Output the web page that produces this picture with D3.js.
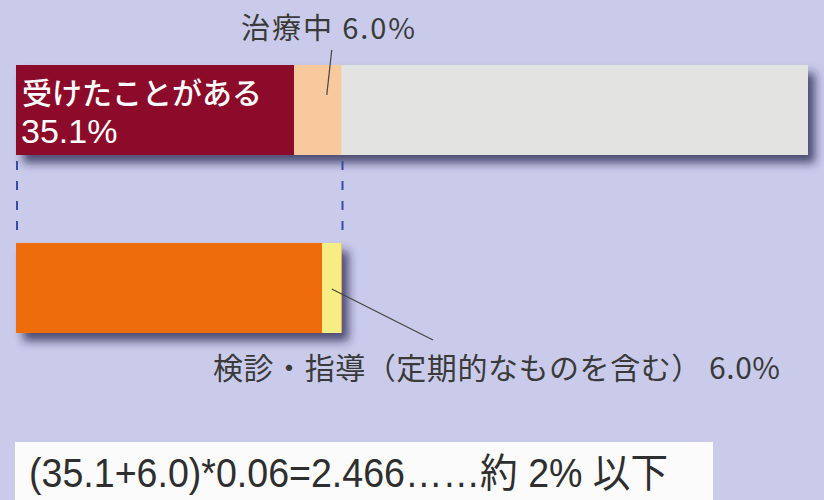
<!DOCTYPE html>
<html>
<head>
<meta charset="utf-8">
<script src="https://cdn.jsdelivr.net/npm/d3@7"></script>
<style>
  html, body { margin: 0; padding: 0; background: #cacbea; }
  svg { display: block; }
</style>
</head>
<body>
<svg id="chart" width="824" height="500"></svg>
<script>
// Share of people who have received treatment (upper bar)
const topCategories = ["受けたことがある", "治療中", "その他"];
const topValues = [35.1, 6.0, 58.9];
const topColors = ["#8c0b2b", "#f7c99c", "#e3e3e1"];

// Breakdown of the 41.1% (35.1 + 6.0): 6% of it is check-ups / guidance
const bottomCategories = ["その他", "検診・指導"];
const bottomValues = [38.634, 2.466];
const bottomColors = ["#ee6c0c", "#f8ec84"];

// Text labels
const treatedLabel = "受けたことがある";
const treatedValueLabel = "35.1%";
const inTreatmentLabel = "治療中 6.0%";
const checkupLabel = "検診・指導（定期的なものを含む） 6.0%";
const formulaLabel = "(35.1+6.0)*0.06=2.466……約 2% 以下";

const svg = d3.select("#chart");
const W = 824, H = 500;

svg.append("rect").attr("width", W).attr("height", H).attr("fill", "#cacbea");

const defs = svg.append("defs");
const shadow = defs.append("filter").attr("id", "barShadow")
  .attr("x", "-5%").attr("y", "-20%").attr("width", "115%").attr("height", "160%");
shadow.append("feDropShadow")
  .attr("dx", 7).attr("dy", 8).attr("stdDeviation", 5)
  .attr("flood-color", "#23234d").attr("flood-opacity", 0.75);

const x = d3.scaleLinear().domain([0, 100]).range([16, 808]);

// Bar geometry: each bar 90px tall
const barH = 90;
const yTop = 65, yBottom = 243;

function stack(values) {
  let acc = 0;
  return values.map(v => { const s = acc; acc += v; return { x0: s, x1: acc, v }; });
}

const topStack = stack(topValues);
const bottomStack = stack(bottomValues);

// Shadow layer (whole bar)
const topTotal = d3.sum(topValues);
const bottomTotal = d3.sum(bottomValues);
svg.append("rect")
  .attr("x", x(0)).attr("y", yTop)
  .attr("width", x(topTotal) - x(0)).attr("height", barH)
  .attr("fill", "#e3e3e1").attr("filter", "url(#barShadow)");
svg.append("rect")
  .attr("x", x(0)).attr("y", yBottom)
  .attr("width", x(bottomTotal) - x(0)).attr("height", barH)
  .attr("fill", "#ee6c0c").attr("filter", "url(#barShadow)");

// Segments
svg.append("g").selectAll("rect").data(topStack).join("rect")
  .attr("x", d => x(d.x0)).attr("y", yTop)
  .attr("width", d => x(d.x1) - x(d.x0)).attr("height", barH)
  .attr("fill", (d, i) => topColors[i]);

svg.append("g").selectAll("rect").data(bottomStack).join("rect")
  .attr("x", d => x(d.x0)).attr("y", yBottom)
  .attr("width", d => x(d.x1) - x(d.x0)).attr("height", barH)
  .attr("fill", (d, i) => bottomColors[i]);

// Dashed guides linking the 41.1% span of both bars
const guideXs = [0, topValues[0] + topValues[1]];
svg.append("g").selectAll("line").data(guideXs).join("line")
  .attr("x1", d => x(d) + 1).attr("x2", d => x(d) + 1)
  .attr("y1", yTop + barH + 6).attr("y2", yBottom - 4)
  .attr("stroke", "#3a4aa6").attr("stroke-width", 2)
  .attr("stroke-dasharray", "9,11");

const cjk = "'Noto Sans CJK JP', 'Noto Sans', sans-serif";

// Labels inside the maroon segment
svg.append("text").attr("x", 22).attr("y", 104)
  .attr("font-family", cjk).attr("font-size", 30).attr("font-weight", 500)
  .attr("textLength", 240).attr("lengthAdjust", "spacing")
  .attr("fill", "#ffffff").text(treatedLabel);
svg.append("text").attr("x", 21).attr("y", 143)
  .attr("font-family", "'Liberation Sans', Arial, sans-serif").attr("font-size", 34)
  .attr("fill", "#ffffff").text(treatedValueLabel);

// 治療中 label with leader
const peachMid = x(topValues[0] + topValues[1] / 2);
svg.append("text").attr("x", 241).attr("y", 39)
  .attr("font-family", cjk).attr("font-size", 29)
  .attr("textLength", 174).attr("lengthAdjust", "spacing")
  .attr("fill", "#3a3a3a").text(inTreatmentLabel);
svg.append("line")
  .attr("x1", peachMid + 14).attr("y1", 50)
  .attr("x2", peachMid + 9).attr("y2", 95)
  .attr("stroke", "#444").attr("stroke-width", 1.2);

// 検診・指導 label with leader
const yellowMid = x(bottomValues[0] + bottomValues[1] / 2);
svg.append("line")
  .attr("x1", yellowMid).attr("y1", 289)
  .attr("x2", 433).attr("y2", 340)
  .attr("stroke", "#444").attr("stroke-width", 1.2);
svg.append("text").attr("x", 213).attr("y", 379)
  .attr("font-family", cjk).attr("font-size", 30)
  .attr("textLength", 567).attr("lengthAdjust", "spacing")
  .attr("fill", "#3a3a3a").text(checkupLabel);

// Formula box
svg.append("rect").attr("x", 15).attr("y", 442).attr("width", 698).attr("height", 60)
  .attr("fill", "#fbfbfb");
svg.append("text").attr("x", 29).attr("y", 487)
  .attr("font-family", "'Liberation Sans', 'Noto Sans CJK JP', sans-serif").attr("font-size", 40)
  .attr("textLength", 639).attr("lengthAdjust", "spacingAndGlyphs")
  .attr("fill", "#2e2e2e").text(formulaLabel);
</script>
</body>
</html>
